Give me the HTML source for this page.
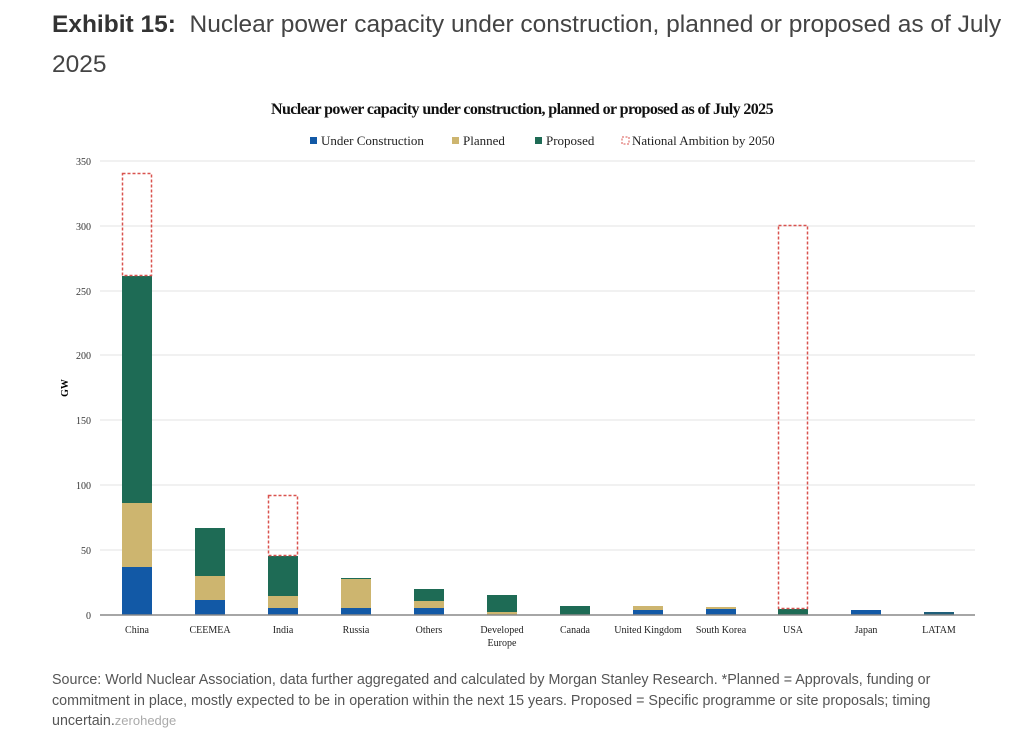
<!DOCTYPE html>
<html><head><meta charset="utf-8"><style>
body{margin:0;background:#fff;width:1025px;height:743px;overflow:hidden;font-family:"Liberation Sans",sans-serif}
.h{position:absolute;left:52px;top:5px;width:955px;font-size:24.5px;line-height:40px;color:#444}
.h b{color:#333}
.src{position:absolute;left:52px;top:670px;width:935px;font-size:14.3px;line-height:20.5px;color:#555}
</style></head><body>
<div class="h"><b>Exhibit 15:</b>&nbsp; Nuclear power capacity under construction, planned or proposed as of July 2025</div>
<svg width="1025" height="743" style="position:absolute;left:0;top:0" font-family="Liberation Serif, serif">
<text x="522" y="114" text-anchor="middle" font-size="16" font-weight="bold" fill="#111" letter-spacing="-0.6">Nuclear power capacity under construction, planned or proposed as of July 2025</text>
<g font-size="13" fill="#222">
<rect x="310" y="137" width="7" height="7" fill="#1259a6"/><text x="321" y="145">Under Construction</text>
<rect x="452" y="137" width="7" height="7" fill="#cdb56f"/><text x="463" y="145">Planned</text>
<rect x="535" y="137" width="7" height="7" fill="#1e6b55"/><text x="546" y="145">Proposed</text>
<rect x="622" y="137" width="7" height="7" fill="none" stroke="#d9534f" stroke-dasharray="2,1.5" stroke-width="1"/><text x="632" y="145">National Ambition by 2050</text>
</g>
<g stroke="#e3e3e3" stroke-width="1">
<line x1="100" x2="975" y1="161" y2="161"/><line x1="100" x2="975" y1="226" y2="226"/><line x1="100" x2="975" y1="291" y2="291"/><line x1="100" x2="975" y1="355" y2="355"/><line x1="100" x2="975" y1="420" y2="420"/><line x1="100" x2="975" y1="485" y2="485"/><line x1="100" x2="975" y1="550" y2="550"/>
</g>
<g font-size="10" fill="#333" text-anchor="end">
<text x="91" y="165">350</text><text x="91" y="230">300</text><text x="91" y="295">250</text><text x="91" y="359">200</text><text x="91" y="424">150</text><text x="91" y="489">100</text><text x="91" y="554">50</text><text x="91" y="619">0</text>
</g>
<text x="68" y="388" font-size="10" font-weight="bold" transform="rotate(-90 68 388)" text-anchor="middle">GW</text>
<g>
<rect x="122" y="567" width="30" height="48" fill="#1259a6"/><rect x="122" y="503" width="30" height="64" fill="#cdb56f"/><rect x="122" y="276" width="30" height="227" fill="#1e6b55"/>
<rect x="122.5" y="173.5" width="29" height="102" fill="none" stroke="#d9534f" stroke-width="1.5" stroke-dasharray="3,2"/>
<rect x="195" y="600" width="30" height="15" fill="#1259a6"/><rect x="195" y="576" width="30" height="24" fill="#cdb56f"/><rect x="195" y="528" width="30" height="48" fill="#1e6b55"/>
<rect x="268" y="608" width="30" height="7" fill="#1259a6"/><rect x="268" y="596" width="30" height="12" fill="#cdb56f"/><rect x="268" y="556" width="30" height="40" fill="#1e6b55"/>
<rect x="268.5" y="495.5" width="29" height="60" fill="none" stroke="#d9534f" stroke-width="1.5" stroke-dasharray="3,2"/>
<rect x="341" y="608" width="30" height="7" fill="#1259a6"/><rect x="341" y="579" width="30" height="29" fill="#cdb56f"/><rect x="341" y="578" width="30" height="1" fill="#1e6b55"/>
<rect x="414" y="608" width="30" height="7" fill="#1259a6"/><rect x="414" y="601" width="30" height="7" fill="#cdb56f"/><rect x="414" y="589" width="30" height="12" fill="#1e6b55"/>
<rect x="487" y="612" width="30" height="3" fill="#cdb56f"/><rect x="487" y="595" width="30" height="17" fill="#1e6b55"/>
<rect x="560" y="606" width="30" height="9" fill="#1e6b55"/>
<rect x="633" y="610" width="30" height="5" fill="#1259a6"/><rect x="633" y="606" width="30" height="4" fill="#cdb56f"/>
<rect x="706" y="609" width="30" height="6" fill="#1259a6"/><rect x="706" y="607" width="30" height="2" fill="#cdb56f"/>
<rect x="778" y="609" width="30" height="6" fill="#1e6b55"/>
<rect x="778.5" y="225.5" width="29" height="383" fill="none" stroke="#d9534f" stroke-width="1.5" stroke-dasharray="3,2"/>
<rect x="851" y="610" width="30" height="5" fill="#1259a6"/>
<rect x="924" y="612" width="30" height="3" fill="#1f5f7a"/>
</g>
<line x1="100" x2="975" y1="615" y2="615" stroke="#888" stroke-width="1.5"/>
<g font-size="10" fill="#222" text-anchor="middle">
<text x="137" y="633">China</text><text x="210" y="633">CEEMEA</text><text x="283" y="633">India</text><text x="356" y="633">Russia</text><text x="429" y="633">Others</text><text x="502" y="633">Developed</text><text x="502" y="646">Europe</text><text x="575" y="633">Canada</text><text x="648" y="633">United Kingdom</text><text x="721" y="633">South Korea</text><text x="793" y="633">USA</text><text x="866" y="633">Japan</text><text x="939" y="633">LATAM</text>
</g>
</svg>
<div class="src">Source: World Nuclear Association, data further aggregated and calculated by Morgan Stanley Research. *Planned = Approvals, funding or commitment in place, mostly expected to be in operation within the next 15 years. Proposed = Specific programme or site proposals; timing uncertain.<span style="color:#aaa;font-size:13px">zerohedge</span></div>
</body></html>
